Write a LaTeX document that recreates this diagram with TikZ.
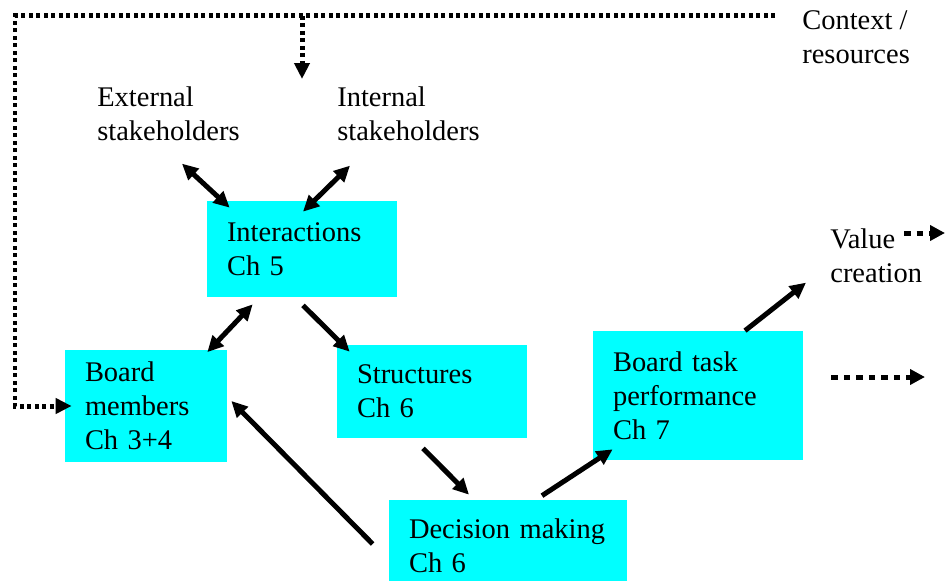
\documentclass[tikz,border=0pt]{standalone}
\usepackage{fontspec}
\setmainfont{Liberation Serif}
\usepackage{tikz}
\usetikzlibrary{positioning,calc,arrows.meta}
\definecolor{BoxCyan}{RGB}{0,255,255}
\newcommand{\diagfont}{\fontsize{16.2}{19.3}\selectfont}
\tikzset{
    box/.style={fill=BoxCyan, inner xsep=0.4cm, inner ysep=0pt, align=left, font=\diagfont},
    txt/.style={inner sep=0pt, anchor=north west, align=left, font=\diagfont}
}

\begin{document}
\begin{tikzpicture}[
        x=0.02cm, y=-0.02cm,
        % --- LINES ---
        solidarrow/.style={line width=0.1cm, -{Triangle[length=0.32cm, width=0.3cm]}},
        twoway/.style={line width=0.1cm, {Triangle[length=0.32cm, width=0.3cm]}-{Triangle[length=0.32cm, width=0.3cm]}},
        ctxline/.style={line width=0.1cm, dash pattern=on 0.08cm off 0.07cm, -{Triangle[length=0.32cm, width=0.3cm]}},
        resultline/.style={line width=0.1cm, dash pattern=on 0.13cm off 0.12cm, -{Triangle[length=0.3cm, width=0.3cm]}}
    ]
    \useasboundingbox (0,0) rectangle (946,581);

    % --- BOXES ---
    \node[box, text width=3.0cm, minimum height=1.92cm] (inter) at (302,249) {Interactions\\Ch 5};
    \node[box, text width=2.44cm, minimum height=2.26cm] (bm) at (146,406) {Board\\members\\Ch 3+4};
    \node[box, text width=3.0cm, minimum height=1.86cm] (str) at (432,391.5) {Structures\\Ch 6};
    \node[box, text width=3.96cm, minimum height=1.82cm] (dec) at (508,545.5) {Decision~making\\Ch 6};
    \node[box, text width=3.4cm, minimum height=2.58cm] (btp) at (698,395.5) {Board task\\performance\\Ch 7};

    % --- TEXTS ---
    \node[txt] (ext) at (97,86) {External\\stakeholders};
    \node[txt] (int) at (337,86) {Internal\\stakeholders};
    \node[txt] (ctx) at (802,10) {Context /\\resources};
    \node[txt] (val) at (830,228) {Value\\creation};

    % --- CONTEXT ---
    \coordinate (ctxstart) at (775,16);
    \coordinate (ctxcorner) at (15,16);
    \coordinate (ctxdrop) at (302,16);
    \coordinate (ctxdown) at (302,79);
    \draw[ctxline] (ctxstart) -- (ctxcorner) |- ([xshift=0.14cm]bm.west);
    \draw[ctxline] (ctxdrop) -- (ctxdown);

    % --- ARROWS ---
    \draw[twoway] ($(ext.south)+(13.5,23)$) -- ($(inter.north west)+(23,7)$);
    \draw[twoway] ($(int.south west)+(13,25)$) -- ($(inter.north)+(1,11)$);
    \draw[twoway] ($(inter.south west)+(46,7)$) -- ($(bm.north east)+(-20,3)$);
    \draw[solidarrow] ($(inter.south)+(1,8)$) -- ($(str.north west)+(13,7)$);
    \draw[solidarrow] ($(str.south)+(-9,10)$) -- ($(dec.north)+(-39,-5)$);
    \draw[solidarrow] ($(dec.west)+(-16,-1.5)$) -- ($(bm.east)+(4,-5)$);
    \draw[solidarrow] ($(dec.north)+(34,-4)$) -- ($(btp.south west)+(20,-11)$);
    \draw[solidarrow] ($(btp.north)+(47,0)$) -- ($(val.south west)+(-24,0)$);

    % --- RESULTS ---
    \coordinate (valout) at (945,233);
    \coordinate (perfout) at (925,377);
    \draw[resultline] ($(val.north west)+(74,5)$) -- (valout);
    \draw[resultline] ($(btp.east)+(28,-18.5)$) -- (perfout);
\end{tikzpicture}
\end{document}
